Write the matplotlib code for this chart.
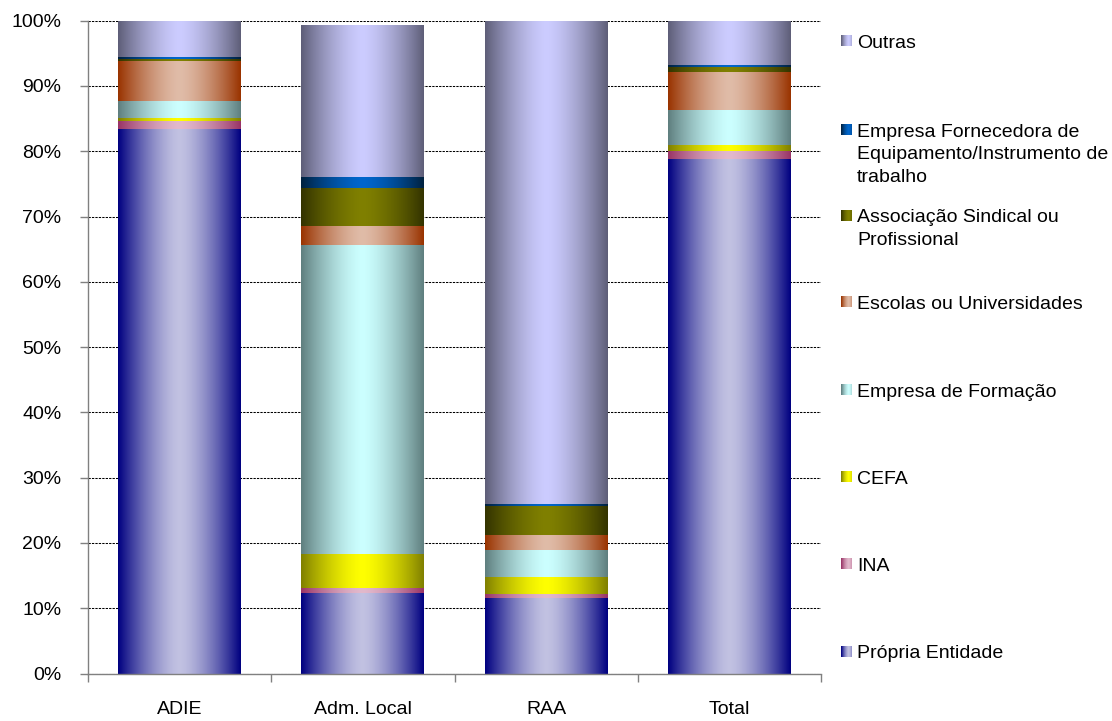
import matplotlib.pyplot as plt
import numpy as np
from matplotlib.colors import to_rgb

plt.rcParams['font.family'] = ['Liberation Sans', 'DejaVu Sans']

# dados (percentagens)
categorias = ["ADIE", "Adm. Local", "RAA", "Total"]
propria = [83.4, 12.3, 11.6, 78.8]
ina = [1.2, 0.8, 0.6, 1.2]
cefa = [0.5, 5.2, 2.6, 0.9]
formacao = [2.6, 47.3, 4.1, 5.4]
escolas = [6.1, 2.9, 2.3, 5.8]
associacao = [0.3, 5.9, 4.5, 0.8]
fornecedora = [0.3, 1.6, 0.3, 0.3]
outras = [5.6, 23.2, 74.0, 6.8]

series = [
    ("Própria Entidade", propria, "#000080", "#c2c2e2"),
    ("INA", ina, "#993366", "#e2b9cc"),
    ("CEFA", cefa, "#808000", "#ffff00"),
    ("Empresa de Formação", formacao, "#5f7f7f", "#ccffff"),
    ("Escolas ou Universidades", escolas, "#993300", "#e0bca8"),
    ("Associação Sindical ou\nProfissional", associacao, "#333300", "#808000"),
    ("Empresa Fornecedora de\nEquipamento/Instrumento de\ntrabalho", fornecedora, "#00213f", "#0066cc"),
    ("Outras", outras, "#5e5e78", "#ccccff"),
]


def gradiente(escuro, claro, n=200, ini=0.0, fim=1.0):
    t = np.linspace(ini, fim, n)
    f = 1 - np.abs(2 * t - 1) ** 1.5
    e = np.array(to_rgb(escuro))
    c = np.array(to_rgb(claro))
    return (e[None, :] + (c - e)[None, :] * f[:, None])[None, :, :]


W, H = 1112, 721
fig = plt.figure(figsize=(W / 100, H / 100), dpi=100)
ax = fig.add_axes([88 / W, 1 - 673.5 / H, (821 - 88) / W, (673.5 - 20.7) / H])

x = np.arange(len(categorias))
base = np.zeros(len(categorias))
for nome, vals, escuro, claro in series:
    barras = ax.bar(x, vals, 0.67, bottom=base, facecolor="none", edgecolor="none", zorder=2)
    img = gradiente(escuro, claro)
    for b in barras:
        bx, by, bw, bh = b.get_x(), b.get_y(), b.get_width(), b.get_height()
        ax.imshow(img, extent=[bx, bx + bw, by, by + bh], aspect="auto",
                  interpolation="bilinear", zorder=2)
    base += np.array(vals)

ax.set_xlim(-0.5, len(categorias) - 0.5)
ax.set_ylim(0, 100)
ax.set_yticks(np.arange(0, 101, 10))
ax.set_yticklabels([f"{v}%" for v in range(0, 101, 10)], fontsize=14)
ax.set_xticks(x)
ax.set_xticklabels(categorias, fontsize=14)
ax.set_xticks(np.arange(-0.5, len(categorias), 1), minor=True)
ax.tick_params(axis="x", which="major", length=0, pad=20)
ax.tick_params(axis="x", which="minor", length=6, color="#808080", width=1)
ax.tick_params(axis="y", length=6, color="#808080", width=1, pad=13)

ax.grid(axis="y", color="black", linestyle=(0, (2.2, 1.1)), linewidth=0.75, zorder=1)
ax.set_axisbelow(True)
for s in ["top", "right"]:
    ax.spines[s].set_visible(False)
for s in ["left", "bottom"]:
    ax.spines[s].set_color("#808080")
    ax.spines[s].set_linewidth(1)

# legenda desenhada à mão (ordem inversa, espaçamento uniforme)
leg = fig.add_axes([0, 0, 1, 1])
leg.set_xlim(0, W)
leg.set_ylim(H, 0)
leg.axis("off")
leg.patch.set_visible(False)
centros = [651.5, 564, 477, 390, 302, 215.5, 130, 41]
for (nome, vals, escuro, claro), cy in zip(series, centros):
    leg.imshow(gradiente(escuro, claro, n=20, ini=0.0, fim=0.7),
               extent=[841, 851.5, cy + 5.5, cy - 5.5], aspect="auto", interpolation="bilinear")
    for i, linha in enumerate(nome.split("\n")):
        leg.text(857, cy + 6.8 + i * 22.5, linha, fontsize=14, va="baseline", ha="left")
leg.set_xlim(0, W)
leg.set_ylim(H, 0)

fig.savefig("out.png", dpi=100)
